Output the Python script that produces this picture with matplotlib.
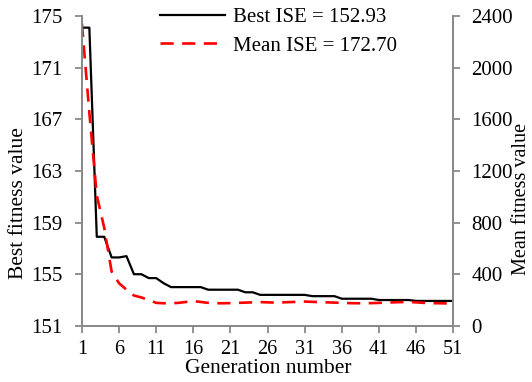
import numpy as np
import matplotlib
matplotlib.use("Agg")
import matplotlib.pyplot as plt

plt.rcParams['font.family'] = ['Liberation Serif', 'DejaVu Serif']

# data
generations = list(range(1, 52))
best_fitness = [174.1, 174.1, 157.9, 157.9, 156.3, 156.3, 156.4, 155.0, 155.0, 154.7,
                154.7, 154.3, 154.0, 154.0, 154.0, 154.0, 154.0, 153.8, 153.8, 153.8,
                153.8, 153.8, 153.6, 153.6, 153.4, 153.4, 153.4, 153.4, 153.4, 153.4,
                153.4, 153.3, 153.3, 153.3, 153.3, 153.1, 153.1, 153.1, 153.1, 153.1,
                153.0, 153.0, 153.0, 153.0, 153.0, 152.93, 152.93, 152.93, 152.93, 152.93,
                152.93]
mean_fitness = [2340, 1650, 1010, 760, 420, 330, 280, 235, 220, 200,
                178, 175, 175, 178, 185, 192, 185, 178, 175, 175,
                176, 178, 180, 182, 184, 182, 180, 182, 184, 186,
                188, 186, 184, 182, 180, 178, 176, 175, 175, 176,
                178, 180, 182, 184, 185, 182, 178, 176, 175, 174,
                172.7]
xtick_labels = list(range(1, 52, 5))

fig = plt.figure(figsize=(5.32, 3.82), dpi=100)
ax = fig.add_axes([0.154, 0.147, 0.698, 0.811])
ax2 = ax.twinx()

gray = '#898989'
l1, = ax.plot(generations, best_fitness, color='black', lw=1.6, label='Best ISE = 152.93')
l2, = ax2.plot(generations, mean_fitness, color='red', lw=1.9, dashes=(5, 3.2),
               label='Mean ISE = 172.70')

ax.set_xlim(1, 51)
ax.set_ylim(151, 175)
ax.set_yticks(np.arange(151, 176, 4))
ax.set_xticks(xtick_labels)
ax2.set_ylim(0, 2400)
ax2.set_yticks(np.arange(0, 2401, 400))

for a in (ax, ax2):
    a.spines['top'].set_visible(False)
    for s in ('left', 'right', 'bottom'):
        a.spines[s].set_color(gray)
        a.spines[s].set_linewidth(1.3)
    a.tick_params(colors=gray, labelcolor='black', labelsize=15, width=1.3, length=5)
ax.tick_params(axis='y', pad=9)
ax.tick_params(axis='x', pad=5, labelsize=14.5)
ax2.tick_params(axis='y', pad=8)

ax.set_xlabel('Generation number', fontsize=15.5)
ax.xaxis.set_label_coords(0.501, -0.107)
ax.set_ylabel('Best fitness value', fontsize=15.5)
ax.yaxis.set_label_coords(-0.145, 0.397)
ax2.set_ylabel('Mean fitness value', fontsize=14.5)
ax2.yaxis.set_label_coords(1.158, 0.41)

fig.legend(handles=[l1, l2], loc='upper left', bbox_to_anchor=(0.266, 1.03),
           frameon=False, fontsize=15, handlelength=3.1, labelspacing=0.44,
           handletextpad=0.4)

fig.savefig('out.png', dpi=100)
